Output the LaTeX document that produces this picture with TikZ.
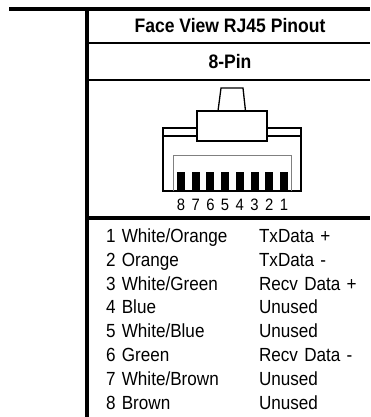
\documentclass[tikz,border=0pt]{standalone}
\usepackage{fontspec}
\setmainfont[FakeStretch=0.9]{Liberation Sans}
\usetikzlibrary{positioning}

\begin{document}
\begin{tikzpicture}[
    x=1pt,
    y=-1pt,
    node distance=0pt,
    marco/.style={
        line width=4pt,
        line cap=butt
    },
    raya/.style={
        line width=2pt
    },
    pieza/.style={
        line width=1.3pt,
        line join=miter
    },
    titulo/.style={
        font=\fontsize{19.5}{21}\selectfont\bfseries,
        inner sep=0pt
    },
    fila/.style={
        font=\fontsize{19}{21}\selectfont,
        inner sep=0pt,
        outer sep=0pt,
        minimum height=23.9pt,
        text height=13.5pt,
        text depth=4pt,
        align=left
    },
    contacto/.style={
        fill=black,
        inner sep=0pt,
        minimum width=8pt,
        minimum height=19pt
    },
    digito/.style={
        font=\fontsize{16.5}{18}\selectfont,
        inner sep=0pt,
        label distance=8pt
    }
]
\useasboundingbox (0,0) rectangle (370,417);

% Marco de la tabla
\draw[marco] (9,9) -- (370,9);
\draw[marco] (87,9) -- (87,417);
\draw[raya] (87,43.5) -- (370,43.5);
\draw[raya] (87,80) -- (370,80);
\draw[marco] (87,218) -- (370,218);

% Encabezados
\node (encabezado) [titulo] at (230,26) {Face View RJ45 Pinout};
\node (variante) [titulo] at (230,62) {8-Pin};

% Cuerpo del conector
\draw[pieza] (163,191) -- (163,128) -- (301,128) -- (301,191) -- cycle;
\draw[pieza] (163,136) -- (301,136);
\draw[gray, line width=0.8pt] (173,191) -- (173,155) -- (291,155) -- (291,191);

% Pestana superior
\draw[pieza, fill=white] (218,111) -- (221,88) -- (243,88) -- (245.5,111);
\draw[pieza, fill=white] (197,111) rectangle (267,141);

% Contactos
\node (pin8) [contacto, label={[digito]below:8}] at (181,181.5) {};
\node (pin7) [contacto, right=6.3pt of pin8, label={[digito]below:7}] {};
\node (pin6) [contacto, right=6.3pt of pin7, label={[digito]below:6}] {};
\node (pin5) [contacto, right=6.3pt of pin6, label={[digito]below:5}] {};
\node (pin4) [contacto, right=6.3pt of pin5, label={[digito]below:4}] {};
\node (pin3) [contacto, right=6.3pt of pin4, label={[digito]below:3}] {};
\node (pin2) [contacto, right=6.3pt of pin3, label={[digito]below:2}] {};
\node (pin1) [contacto, right=6.3pt of pin2, label={[digito]below:1}] {};

% Colores de los hilos
\node (hilo1) [fila, anchor=west, text width=153pt] at (106,237.5) {1 White/Orange};
\node (hilo2) [fila, text width=153pt, below=of hilo1] {2 Orange};
\node (hilo3) [fila, text width=153pt, below=of hilo2] {3 White/Green};
\node (hilo4) [fila, text width=153pt, below=of hilo3] {4 Blue};
\node (hilo5) [fila, text width=153pt, below=of hilo4] {5 White/Blue};
\node (hilo6) [fila, text width=153pt, below=of hilo5] {6 Green};
\node (hilo7) [fila, text width=153pt, below=of hilo6] {7 White/Brown};
\node (hilo8) [fila, text width=153pt, below=of hilo7] {8 Brown};

% Senales
\node (senal1) [fila, text width=105pt, right=of hilo1] {TxData +};
\node (senal2) [fila, text width=105pt, right=of hilo2] {TxData -};
\node (senal3) [fila, text width=105pt, right=of hilo3] {Recv Data +};
\node (senal4) [fila, text width=105pt, right=of hilo4] {Unused};
\node (senal5) [fila, text width=105pt, right=of hilo5] {Unused};
\node (senal6) [fila, text width=105pt, right=of hilo6] {Recv Data -};
\node (senal7) [fila, text width=105pt, right=of hilo7] {Unused};
\node (senal8) [fila, text width=105pt, right=of hilo8] {Unused};

\end{tikzpicture}
\end{document}
